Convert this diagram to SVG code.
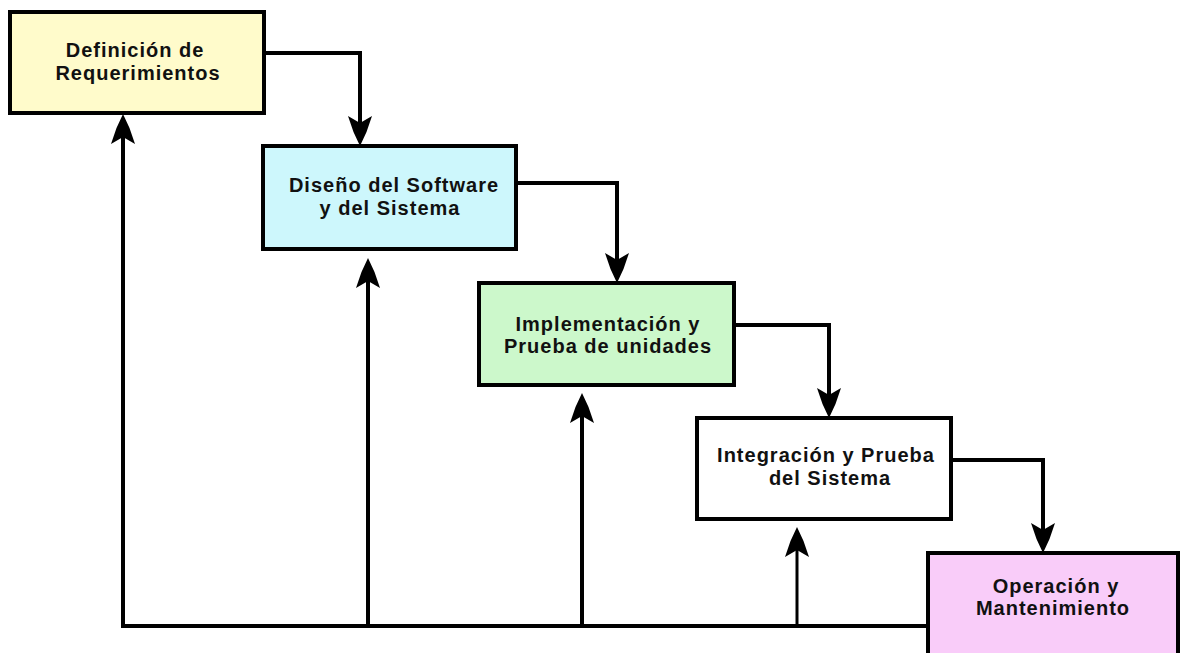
<svg xmlns="http://www.w3.org/2000/svg" width="1182" height="653" viewBox="0 0 1182 653">
  <defs>
    <!-- barbed arrowhead; the path ends 16px behind the tip -->
    <marker id="arrow" markerUnits="userSpaceOnUse" viewBox="-32 -14 34 28" markerWidth="34" markerHeight="28" refX="-16" refY="0" orient="auto" overflow="visible">
      <path d="M0,0 L-14,-6.5 L-30,-12 L-23,0 L-30,12 L-14,6.5 Z" fill="#000"/>
    </marker>
    <style>
      .box { stroke: #000; stroke-width: 4; }
      .lbl { font-family: "Liberation Sans", Arial, sans-serif; font-weight: bold; font-size: 20px; letter-spacing: 1px; fill: #111; text-anchor: middle; }
      .wire { fill: none; stroke: #000; stroke-width: 4; }
      .thin { stroke-width: 3; }
    </style>
  </defs>
  <rect width="1182" height="653" fill="#fff"/>

  <g id="connectors">
    <!-- forward flow between stages -->
    <path class="wire" d="M264,53 H360 V130" marker-end="url(#arrow)"/>
    <path class="wire" d="M516,183 H617 V267" marker-end="url(#arrow)"/>
    <path class="wire" d="M734,325 H829 V402" marker-end="url(#arrow)"/>
    <path class="wire" d="M951,460 H1043 V537" marker-end="url(#arrow)"/>
    <!-- feedback bus back to earlier stages -->
    <path class="wire" d="M928,626 H123 V130" marker-end="url(#arrow)"/>
    <path class="wire" d="M368,626 V274" marker-end="url(#arrow)"/>
    <path class="wire" d="M582,626 V409" marker-end="url(#arrow)"/>
    <path class="wire thin" d="M797,626 V543" marker-end="url(#arrow)"/>
  </g>

  <g id="requerimientos">
    <rect class="box" x="10" y="12" width="254" height="101" fill="#FFFBCB"/>
    <text class="lbl" x="135" y="57">Definición de</text>
    <text class="lbl" x="138" y="80">Requerimientos</text>
  </g>

  <g id="diseno">
    <rect class="box" x="263" y="146" width="253" height="103" fill="#CDF7FC"/>
    <text class="lbl" x="394" y="192">Diseño del Software</text>
    <text class="lbl" x="390" y="215">y del Sistema</text>
  </g>

  <g id="implementacion">
    <rect class="box" x="479" y="283" width="255" height="102" fill="#CCF8CB"/>
    <text class="lbl" x="608" y="331">Implementación y</text>
    <text class="lbl" x="608" y="353">Prueba de unidades</text>
  </g>

  <g id="integracion">
    <rect class="box" x="697" y="418" width="254" height="101" fill="#FFFFFF"/>
    <text class="lbl" x="826" y="462">Integración y Prueba</text>
    <text class="lbl" x="830" y="485">del Sistema</text>
  </g>

  <g id="operacion">
    <rect class="box" x="928" y="553" width="250" height="120" fill="#F9CCF9"/>
    <text class="lbl" x="1056" y="593">Operación y</text>
    <text class="lbl" x="1053" y="615">Mantenimiento</text>
  </g>
</svg>
